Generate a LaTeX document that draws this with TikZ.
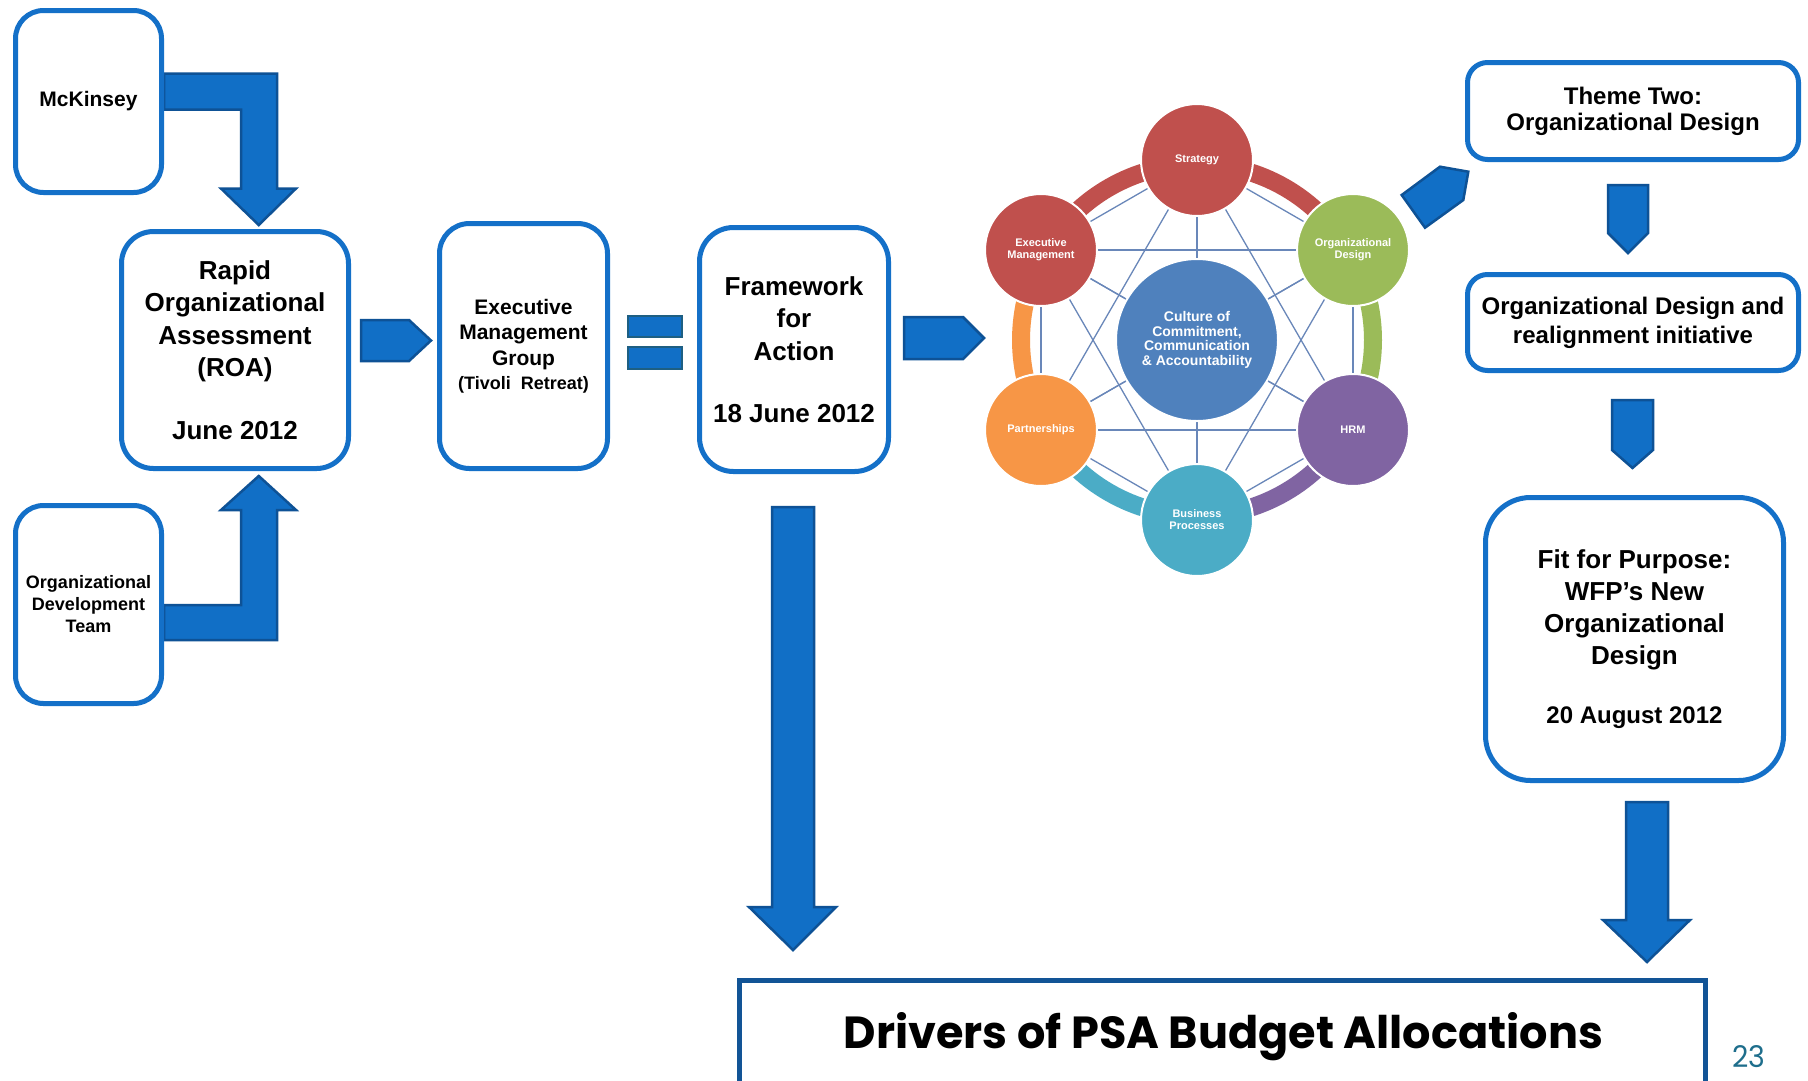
\documentclass[tikz,border=0pt]{standalone}
\usepackage{fontspec}
\usepackage{graphicx}
\setmainfont{Liberation Sans}
\newfontfamily\drvfont{Poppins}
\usetikzlibrary{backgrounds}
\pgfdeclarelayer{canvasbg}
\pgfsetlayers{canvasbg,background,main}
\definecolor{boxblue}{RGB}{20,112,200}
\definecolor{arrowblue}{RGB}{17,111,198}
\definecolor{arrowdark}{RGB}{14,82,150}
\definecolor{eqdark}{RGB}{30,95,130}
\definecolor{drvblue}{RGB}{18,84,150}
\definecolor{pgnum}{RGB}{30,110,140}
\definecolor{cred}{RGB}{192,80,77}
\definecolor{cgreen}{RGB}{155,187,89}
\definecolor{cpurple}{RGB}{128,100,162}
\definecolor{cteal}{RGB}{75,172,198}
\definecolor{corange}{RGB}{247,150,70}
\definecolor{cblue}{RGB}{79,129,189}
\definecolor{linkblue}{RGB}{105,135,185}
\begin{document}
\begin{tikzpicture}[x=1pt,y=-1pt,
  rbox/.style={draw=boxblue, line width=5pt, fill=white, rounded corners=#1, inner sep=0pt, align=center},
  blockarrow/.style={fill=arrowblue, draw=arrowdark, line width=2.5pt, line join=miter},
  eqbar/.style={fill=arrowblue, draw=eqdark, line width=1.5pt},
  wheel/.style={circle, fill=#1, draw=white, line width=2pt, inner sep=0pt, minimum size=112pt, text=white, align=center, font=\bfseries\fontsize{11}{12}\selectfont},
  ringseg/.style={line width=18pt, draw=#1},
  link/.style={draw=linkblue, line width=1.3pt}]
\useasboundingbox (0,0) rectangle (1808,1080);
\begin{pgfonlayer}{canvasbg}
  \fill[white] (0,0) rectangle (1808,1080);
\end{pgfonlayer}

% left boxes
\node[rbox=28, minimum width=146, minimum height=182, font=\bfseries\fontsize{21}{25}\selectfont] (mck) at (88.5,101.5) {McKinsey};
\node[rbox=32, minimum width=227, minimum height=237, font=\bfseries\fontsize{26}{32.5}\selectfont] (roa) at (235,350) {Rapid\\Organizational\\Assessment\\(ROA)\\[30pt]June 2012};
\node[rbox=28, minimum width=146, minimum height=198, font=\bfseries\fontsize{18}{22}\selectfont] (odt) at (88.5,604.5) {Organizational\\Development\\Team};
\node[rbox=30, minimum width=168, minimum height=245, font=\bfseries\fontsize{21}{25.5}\selectfont] (emg) at (523.5,346) {Executive\\Management\\Group\\[-1.5pt]{\fontsize{18}{22}\selectfont(Tivoli~ Retreat)}};
\node[rbox=34, minimum width=189, minimum height=244, font=\bfseries\fontsize{26}{32.5}\selectfont] (fwa) at (794,349.5) {Framework\\for\\Action\\[30pt]18 June 2012};

% right boxes
\node[rbox=20, minimum width=331, minimum height=97, font=\bfseries\fontsize{24}{26}\selectfont] (theme) at (1633,111) {Theme Two:\\Organizational Design};
\node[rbox=20, minimum width=331, minimum height=96, font=\bfseries\fontsize{24}{29}\selectfont] (odr) at (1633,322.5) {Organizational Design and\\realignment initiative};
\node[rbox=45, minimum width=298, minimum height=283, font=\bfseries\fontsize{26}{32}\selectfont] (fit) at (1634.5,639) {Fit for Purpose:\\WFP’s New\\Organizational\\Design\\[27pt]{\fontsize{24}{28}\selectfont 20 August 2012}};

% equal sign
\draw[eqbar] (628,316) rectangle (682,337);
\draw[eqbar] (628,347) rectangle (682,369);

% wheel
\node[wheel=cred] (strat) at (1197,160) {Strategy};
\node[wheel=cred] (exec) at (1041,250) {Executive\\Management};
\node[wheel=cgreen] (orgd) at (1353,250) {Organizational\\Design};
\node[wheel=corange] (part) at (1041,430) {Partnerships};
\node[wheel=cpurple] (hrm) at (1353,430) {HRM};
\node[wheel=cteal] (bproc) at (1197,520) {Business\\Processes};
\node[circle, fill=cblue, draw=white, line width=2pt, inner sep=0pt, minimum size=162pt, text=white, align=center, font=\bfseries\fontsize{14}{14.5}\selectfont] (cult) at (1197,340) {Culture of\\Commitment,\\Communication\\\& Accountability};

% drivers box
\node[draw=drvblue, line width=5pt, fill=white, minimum width=966, minimum height=200, inner sep=0pt, anchor=north] (drvbox) at (1222.5,977.5) {};
\node[anchor=base, inner sep=0pt] (drvtext) at (1223.5,1048) {\resizebox{759pt}{36pt}{\drvfont\bfseries Drivers of PSA Budget Allocations}};
\node[anchor=base west, inner sep=0pt, text=pgnum] (pnum) at (1732,1067) {\resizebox{33pt}{22pt}{\drvfont 23}};

\begin{pgfonlayer}{background}
  % ring
  \draw[ringseg=cred, shift={(1197,340)}] (270:176) arc[start angle=270, end angle=330, radius=176];
  \draw[ringseg=cgreen, shift={(1197,340)}] (330:176) arc[start angle=330, end angle=390, radius=176];
  \draw[ringseg=cpurple, shift={(1197,340)}] (30:176) arc[start angle=30, end angle=90, radius=176];
  \draw[ringseg=cteal, shift={(1197,340)}] (90:176) arc[start angle=90, end angle=150, radius=176];
  \draw[ringseg=corange, shift={(1197,340)}] (150:176) arc[start angle=150, end angle=210, radius=176];
  \draw[ringseg=cred, shift={(1197,340)}] (210:176) arc[start angle=210, end angle=270, radius=176];
  % links
  \foreach \a/\b in {strat/exec,strat/orgd,strat/part,strat/hrm,strat/bproc,
                     exec/orgd,exec/part,exec/hrm,exec/bproc,
                     orgd/part,orgd/hrm,orgd/bproc,
                     part/hrm,part/bproc,hrm/bproc,
                     cult/strat,cult/exec,cult/orgd,cult/part,cult/hrm,cult/bproc}
    \draw[link] (\a) -- (\b);
  % block arrows
  \draw[blockarrow] (164,73.5) -- (277,73.5) -- (277,188.5) -- (296,188.5) -- (258.75,225) -- (221,188.5) -- (241,188.5) -- (241,109.5) -- (164,109.5) -- cycle;
  \draw[blockarrow] (164,640) -- (277,640) -- (277,510) -- (296,510) -- (258.75,476) -- (221,510) -- (241,510) -- (241,605) -- (164,605) -- cycle;
  \draw[blockarrow] (361,320) -- (409,320) -- (431,340.5) -- (409,361) -- (361,361) -- cycle;
  \draw[blockarrow] (904,317) -- (963,317) -- (984,338) -- (963,359) -- (904,359) -- cycle;
  \draw[blockarrow] (1401.7,195) -- (1440,166.7) -- (1468.3,171.7) -- (1463.3,200) -- (1425,227.7) -- cycle;
  \draw[blockarrow] (1608,185) -- (1648,185) -- (1648,233) -- (1628,253) -- (1608,233) -- cycle;
  \draw[blockarrow] (1612,400) -- (1653,400) -- (1653,450) -- (1632.5,468) -- (1612,450) -- cycle;
  \draw[blockarrow] (772,507) -- (814,507) -- (814,907) -- (836,907) -- (793,950) -- (749,907) -- (772,907) -- cycle;
  \draw[blockarrow] (1626,802) -- (1668,802) -- (1668,920) -- (1690,920) -- (1647,962) -- (1603,920) -- (1626,920) -- cycle;
\end{pgfonlayer}
\end{tikzpicture}
\end{document}
